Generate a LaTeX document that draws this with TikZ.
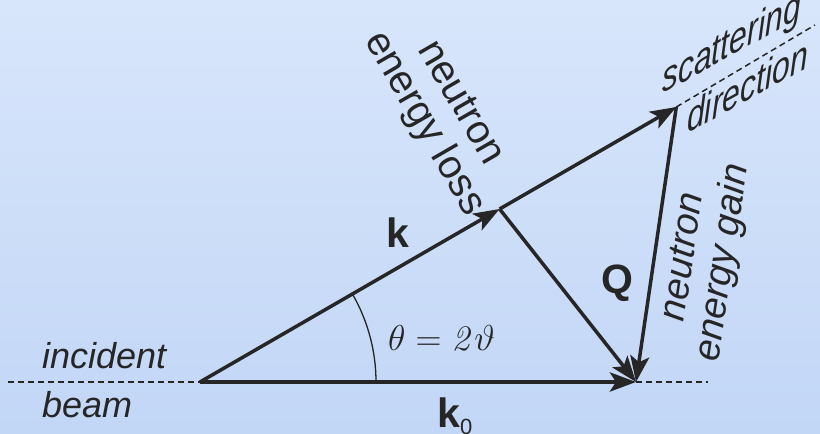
\RequirePackage{fix-cm}
\documentclass[tikz,border=0pt]{standalone}
\usepackage[no-math]{fontspec}
\setmainfont{Liberation Sans}
\usetikzlibrary{arrows.meta}
\definecolor{ink}{HTML}{262626}
\definecolor{bgtop}{HTML}{D8E6FB}
\definecolor{bgbot}{HTML}{C2D6F6}
\begin{document}
\begin{tikzpicture}[x=1pt,y=1pt,
  vec/.style={draw=ink,line width=3.5pt,-{Stealth[length=26pt,width=19pt,inset=6pt]}},
  guide/.style={draw=ink,line width=1.5pt,dash pattern=on 6pt off 4pt},
  lbl/.style={text=ink,inner sep=0pt},
  itlbl/.style={lbl,font=\fontsize{36}{40}\selectfont\itshape},
  bflbl/.style={lbl,font=\fontsize{41}{44}\selectfont\bfseries},
  slantlbl/.style={lbl,anchor=base west,yslant=0.55,yscale=1.3,font=\fontsize{32}{36}\selectfont\itshape}]
\useasboundingbox (0,0) rectangle (820,434);
\shade[top color=bgtop,bottom color=bgbot] (0,0) rectangle (820,434);
% points
\coordinate (O) at (200,52);
\coordinate (K0) at (636,52);
\coordinate (M) at (499.6,225);
\coordinate (S) at (676.3,327);
\coordinate (L) at (8,52);
\coordinate (R) at (708,52);
\coordinate (T) at (815,409);
% guides
\draw[guide] (L) -- (O);
\draw[guide] (K0) -- (R);
\draw[guide] (S) -- (T);
% angle arc
\draw[ink,line width=1.3pt] (376,52) arc[start angle=0,end angle=30,radius=176];
% vectors
\draw[vec,line width=4.5pt,line cap=butt] (O) -- (K0);
\draw[vec] (O) -- (M);
\draw[vec] (M) -- (S);
\draw[vec] (M) -- (K0);
\draw[vec] (S) -- (K0);
% labels
\node[itlbl,anchor=base west] (inc) at (42,65) {incident};
\node[itlbl,anchor=base west] (beam) at (42,16) {beam};
\node[bflbl,anchor=base] (k) at (398,186) {k};
\node[bflbl,anchor=base] (Q) at (617,140) {Q};
\node[bflbl,anchor=base west] (k0) at (437,6) {k{\fontsize{22}{22}\selectfont\mdseries\raisebox{-7pt}{0}}};
\node[lbl,anchor=base west,font=\fontsize{36}{40}\selectfont] (ang) at (388,83) {$\theta = \mathit{2}\vartheta$};
\node[lbl,align=center,rotate=-60,font=\fontsize{40}{42}\selectfont] (loss) at (441,320) {neutron\\energy loss};
\node[lbl,align=center,rotate=81.5,font=\fontsize{38}{40}\selectfont\itshape] (gain) at (705,174) {neutron\\energy gain};
\node[slantlbl] (scat) at (662,340) {scattering};
\node[slantlbl] (dir) at (687,300) {direction};
\end{tikzpicture}
\end{document}
